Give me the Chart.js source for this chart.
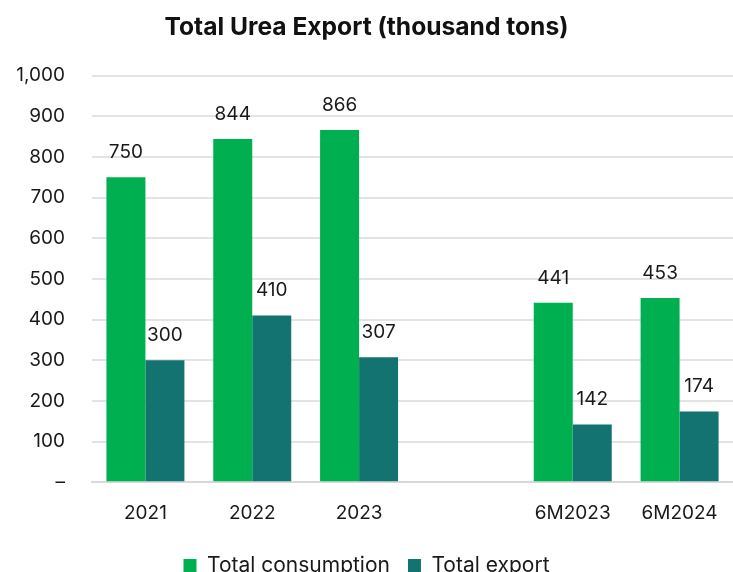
<!DOCTYPE html>
<html>
<head>
<meta charset="utf-8">
<script src="https://cdn.jsdelivr.net/npm/chart.js@4"></script>
<style>
  html, body { margin: 0; padding: 0; background: #fff; overflow: hidden; }
  #wrap { width: 733px; height: 586px; position: relative; }
</style>
</head>
<body>
<div id="wrap"><canvas id="ureaChart"></canvas></div>
<script>
const categories = ['2021', '2022', '2023', '', '6M2023', '6M2024'];
const totalConsumption = [750, 844, 866, null, 441, 453];
const totalExport = [300, 410, 307, null, 142, 174];
const yTicks = [0, 100, 200, 300, 400, 500, 600, 700, 800, 900, 1000];

const fontFamily = 'Inter, "Open Sans", sans-serif';

// draw value labels above each bar
const barLabels = {
  id: 'barLabels',
  afterDatasetsDraw(chart) {
    const ctx = chart.ctx;
    ctx.save();
    ctx.font = '19px ' + fontFamily;
    ctx.fillStyle = '#1a1a1a';
    ctx.textAlign = 'center';
    ctx.textBaseline = 'middle';
    chart.data.datasets.forEach((ds, i) => {
      chart.getDatasetMeta(i).data.forEach((bar, j) => {
        if (ds.data[j] == null) return;
        ctx.fillText(ds.data[j], bar.x, bar.y - 25);
      });
    });
    ctx.restore();
  }
};

new Chart(document.getElementById('ureaChart'), {
  type: 'bar',
  data: {
    labels: categories,
    datasets: [{
      label: 'Total consumption',
      data: totalConsumption,
      backgroundColor: '#00b050'
    }, {
      label: 'Total export',
      data: totalExport,
      backgroundColor: '#137371'
    }]
  },
  options: {
    responsive: true,
    maintainAspectRatio: false,
    animation: false,
    categoryPercentage: 0.73,
    barPercentage: 1,
    layout: { padding: { left: 0, right: 0, top: 8, bottom: 0 } },
    plugins: {
      title: {
        display: true,
        text: 'Total Urea Export (thousand tons)',
        color: '#111',
        font: { family: fontFamily, size: 24.6, weight: 'bold' },
        padding: { top: 5, bottom: 33 }
      },
      legend: {
        position: 'bottom',
        labels: {
          color: '#1a1a1a',
          font: { family: fontFamily, size: 21 },
          boxWidth: 13,
          boxHeight: 13,
          padding: 18
        }
      },
      tooltip: { enabled: false }
    },
    scales: {
      x: {
        grid: { display: false },
        border: { display: true, color: '#d9d9d9', width: 2 },
        ticks: {
          color: '#1a1a1a',
          font: { family: fontFamily, size: 19 },
          padding: 12
        }
      },
      y: {
        min: 0,
        max: 1000,
        afterFit(scale) { scale.width = 92; },
        afterBuildTicks(scale) { scale.ticks = yTicks.map(v => ({ value: v })); },
        border: { display: false },
        grid: { color: '#e3e3e3', lineWidth: 2, drawTicks: false },
        ticks: {
          color: '#1a1a1a',
          font: { family: fontFamily, size: 19 },
          padding: 27,
          callback: v => v === 0 ? '–' : v.toLocaleString('en-US')
        }
      }
    }
  },
  plugins: [barLabels]
});
</script>
</body>
</html>
